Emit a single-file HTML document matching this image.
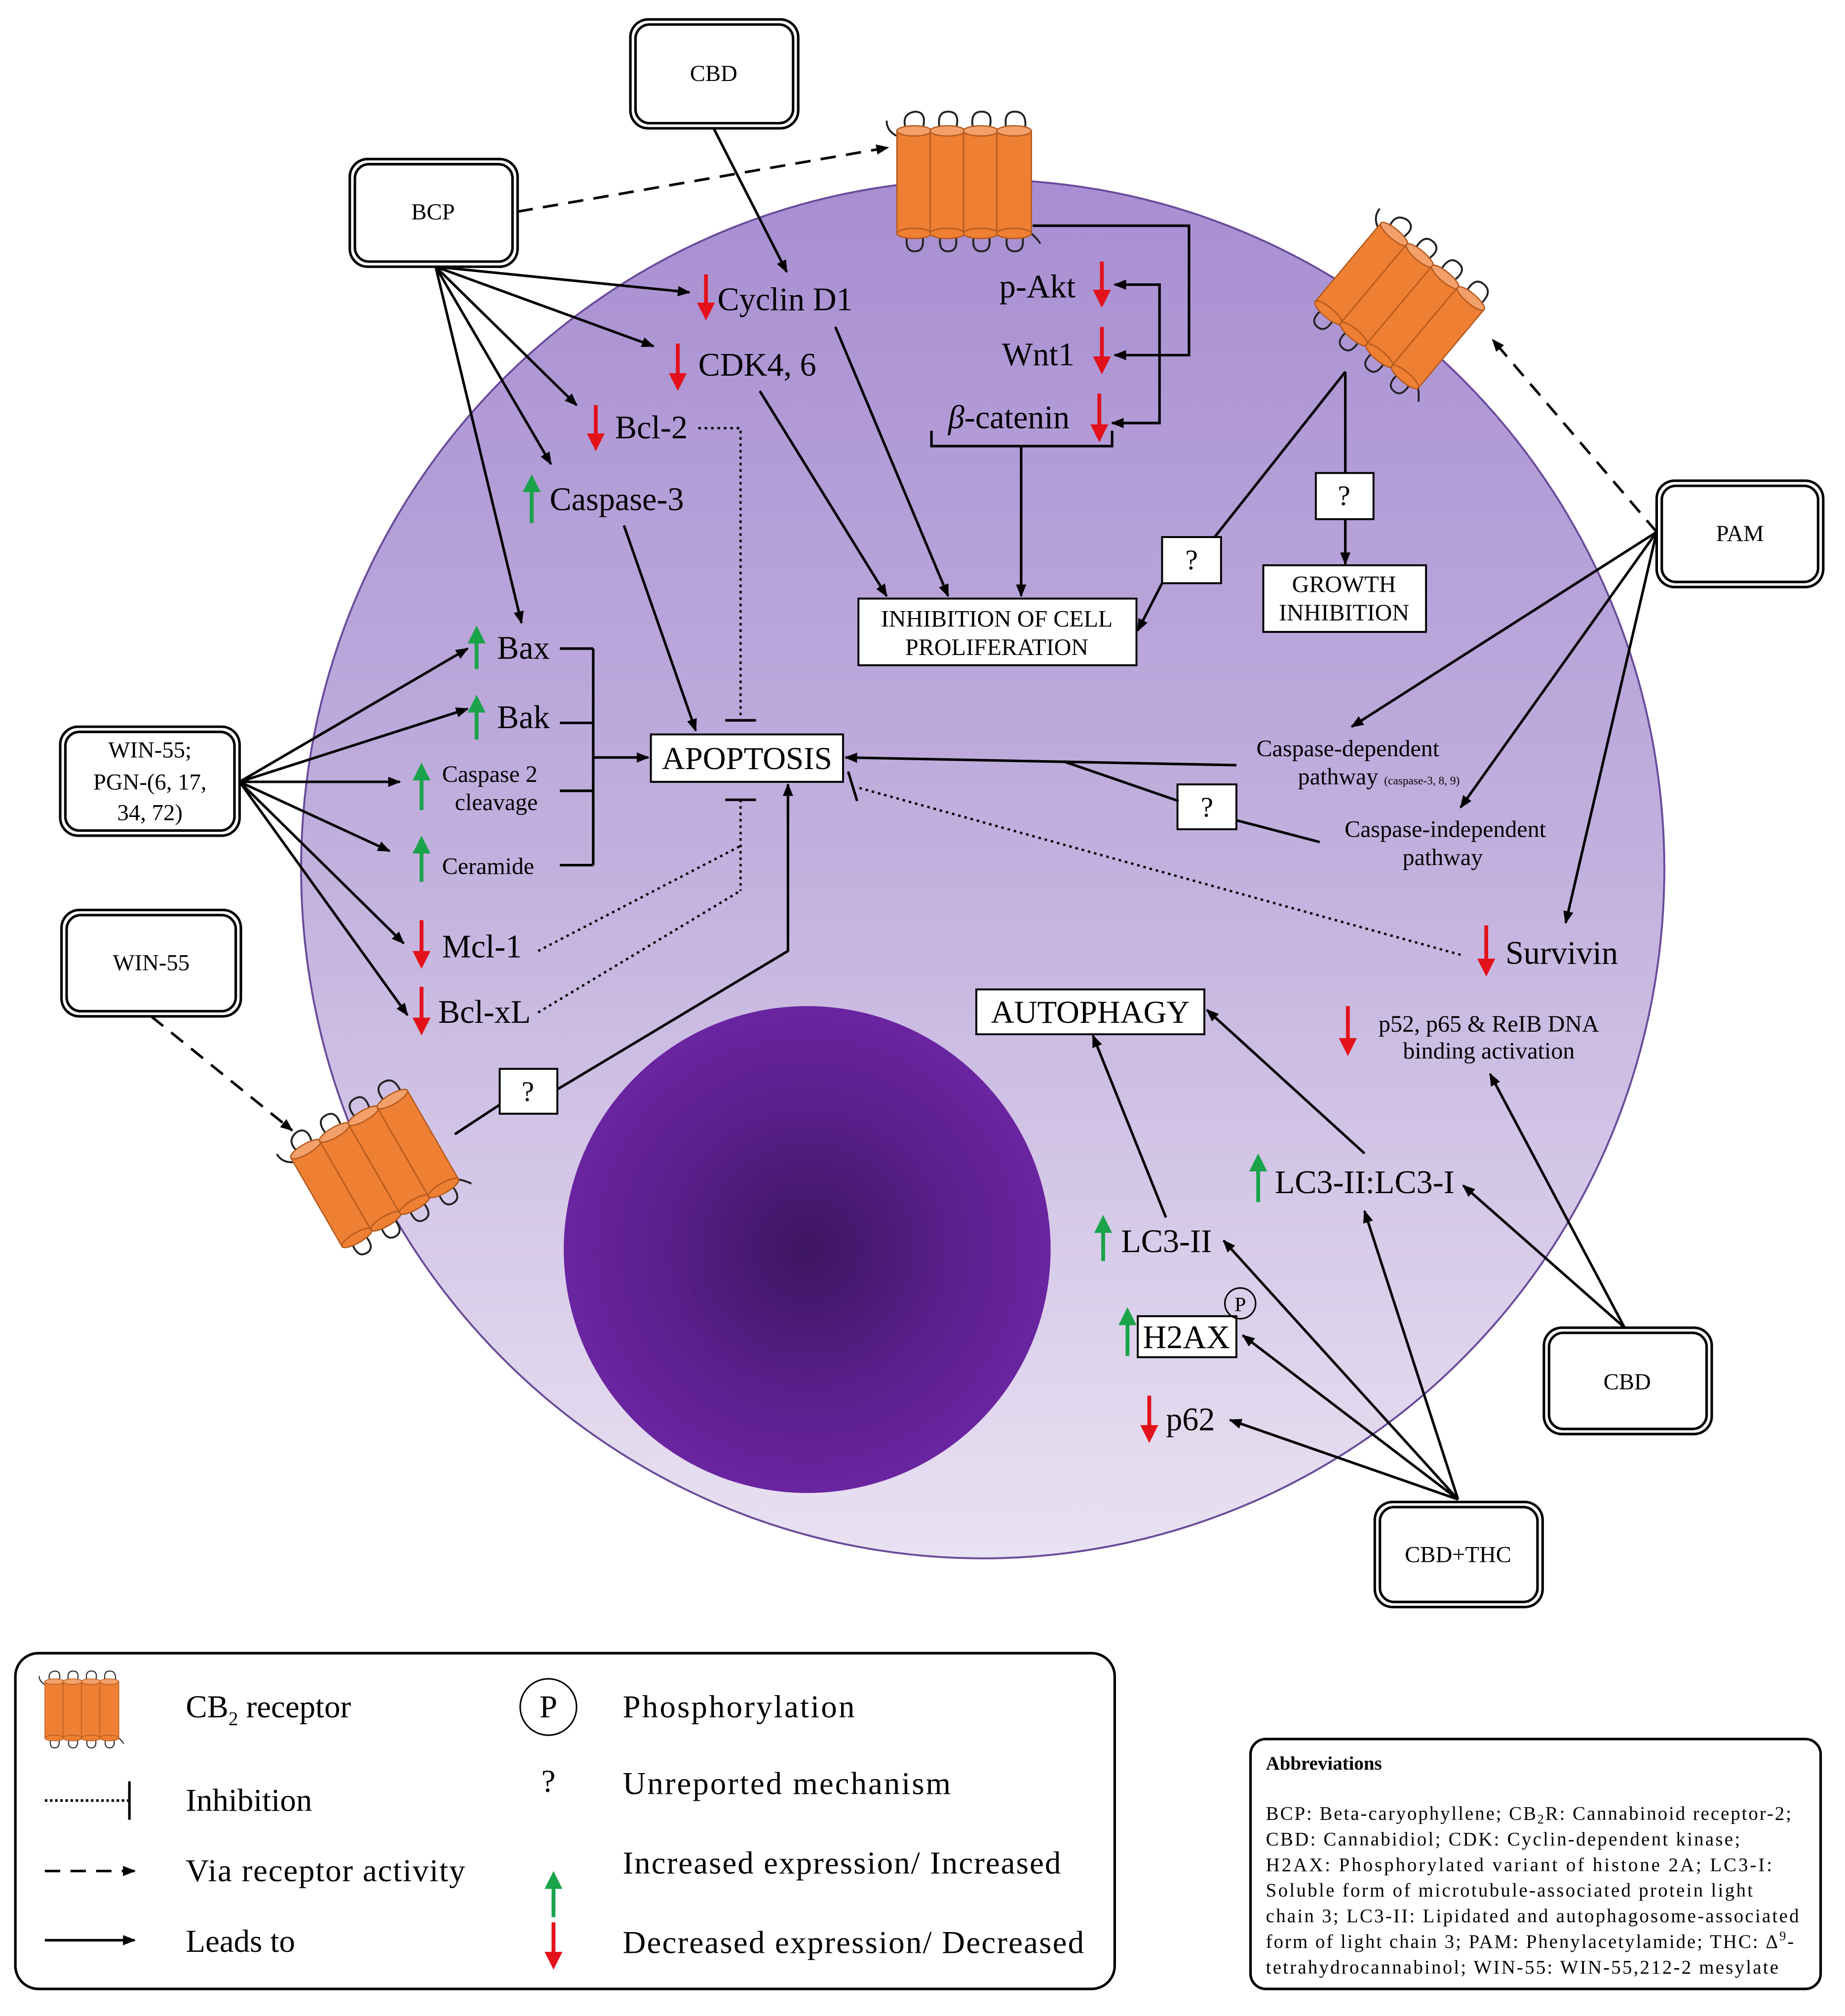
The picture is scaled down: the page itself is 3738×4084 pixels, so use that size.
<!DOCTYPE html>
<html><head><meta charset="utf-8"><style>html,body{margin:0;padding:0;background:#fff}svg{display:block}</style></head>
<body>
<svg xmlns="http://www.w3.org/2000/svg" width="3738" height="4084" viewBox="0 0 1440 1573" font-family="'Liberation Serif', serif">
<defs>
<linearGradient id="cell" x1="0" y1="0" x2="0" y2="1">
<stop offset="0" stop-color="#a88ed2"/><stop offset="0.5" stop-color="#c2b1de"/><stop offset="1" stop-color="#e9e2f2"/></linearGradient>
<radialGradient id="nuc" cx="0.5" cy="0.5" r="0.5">
<stop offset="0" stop-color="#3e1560"/><stop offset="0.6" stop-color="#5a1f8c"/><stop offset="1" stop-color="#6a24a0"/></radialGradient>
<marker id="ah" markerWidth="10" markerHeight="10" refX="9" refY="5" orient="auto" markerUnits="userSpaceOnUse"><path d="M0,1 L10,5 L0,9 z" fill="#000"/></marker>
<marker id="rh" markerWidth="14" markerHeight="14" refX="4" refY="7" orient="auto" markerUnits="userSpaceOnUse"><path d="M0,0 L14,7 L0,14 z" fill="#e3111a"/></marker>
<marker id="gh" markerWidth="14" markerHeight="14" refX="4" refY="7" orient="auto" markerUnits="userSpaceOnUse"><path d="M0,0 L14,7 L0,14 z" fill="#1aa34a"/></marker>
<g id="rec">
<path d="M8,5 q-6,-14 6,-16 q10,0 6,14 M34,5 q-4,-16 6,-16 q10,0 6,14 M60,5 q-4,-16 6,-16 q10,0 6,14 M86,5 q-4,-16 6,-16 q10,0 8,14" fill="none" stroke="#222" stroke-width="1.5"/>
<path d="M0,8 q-8,-4 -8,-12 M100,80 q8,6 12,12" fill="none" stroke="#222" stroke-width="1.5"/>
<path d="M8,86 q-2,12 6,12 q8,0 6,-12 M34,86 q-2,12 6,12 q8,0 6,-12 M60,86 q-2,12 6,12 q8,0 6,-12 M86,86 q-2,12 6,12 q8,0 6,-12" fill="none" stroke="#222" stroke-width="1.5"/>
<g fill="#ee7f33" stroke="#b3591d" stroke-width="1">
<rect x="0" y="4" width="27" height="80"/><ellipse cx="13.5" cy="84" rx="13.5" ry="4"/><ellipse cx="13.5" cy="4" rx="13.5" ry="4" fill="#f3a06a"/>
<rect x="26" y="4" width="27" height="80"/><ellipse cx="39.5" cy="84" rx="13.5" ry="4"/><ellipse cx="39.5" cy="4" rx="13.5" ry="4" fill="#f3a06a"/>
<rect x="52" y="4" width="27" height="80"/><ellipse cx="65.5" cy="84" rx="13.5" ry="4"/><ellipse cx="65.5" cy="4" rx="13.5" ry="4" fill="#f3a06a"/>
<rect x="78" y="4" width="27" height="80"/><ellipse cx="91.5" cy="84" rx="13.5" ry="4"/><ellipse cx="91.5" cy="4" rx="13.5" ry="4" fill="#f3a06a"/>
</g>
</g>
</defs>

<ellipse cx="767" cy="678" rx="532" ry="538" fill="url(#cell)" stroke="#6a4a9a" stroke-width="1.5"/>
<circle cx="630" cy="975" r="190" fill="url(#nuc)"/>

<use href="#rec" transform="translate(700,98)"/>
<use href="#rec" transform="translate(1092,238) rotate(40) translate(-52,-44)"/>
<use href="#rec" transform="translate(292,912) rotate(-30) translate(-52,-44)"/>

<g fill="#fff" stroke="#000" stroke-width="2">
<rect x="492" y="15" width="131" height="85" rx="14"/><rect x="496" y="19" width="123" height="77" rx="11"/>
<rect x="273" y="124" width="131" height="84" rx="14"/><rect x="277" y="128" width="123" height="76" rx="11"/>
<rect x="1293" y="375" width="130" height="83" rx="14"/><rect x="1297" y="379" width="122" height="75" rx="11"/>
<rect x="47" y="567" width="140" height="85" rx="14"/><rect x="51" y="571" width="132" height="77" rx="11"/>
<rect x="48" y="710" width="140" height="83" rx="14"/><rect x="52" y="714" width="132" height="75" rx="11"/>
<rect x="1205" y="1036" width="131" height="83" rx="14"/><rect x="1209" y="1040" width="123" height="75" rx="11"/>
<rect x="1073" y="1172" width="131" height="82" rx="14"/><rect x="1077" y="1176" width="123" height="74" rx="11"/>
</g>
<g font-size="18" text-anchor="middle">
<text x="557" y="63">CBD</text><text x="338" y="171">BCP</text><text x="1358" y="422">PAM</text>
<text x="117" y="591">WIN-55;</text><text x="117" y="616">PGN-(6, 17,</text><text x="117" y="640">34, 72)</text>
<text x="118" y="757">WIN-55</text><text x="1270" y="1084">CBD</text><text x="1138" y="1219">CBD+THC</text>
</g>

<g fill="#fff" stroke="#000" stroke-width="1.5">
<rect x="670" y="467" width="217" height="52"/><rect x="986" y="441" width="127" height="52"/>
<rect x="508" y="573" width="150" height="37"/><rect x="762" y="772" width="178" height="35"/>
<rect x="907" y="419" width="46" height="36"/><rect x="1027" y="369" width="45" height="36"/>
<rect x="919" y="612" width="46" height="35"/><rect x="390" y="834" width="45" height="35"/>
<rect x="888" y="1027" width="77" height="32"/>
</g>
<g font-size="18.5" text-anchor="middle">
<text x="778" y="489">INHIBITION OF CELL</text><text x="778" y="511">PROLIFERATION</text>
<text x="1049" y="462">GROWTH</text><text x="1049" y="484">INHIBITION</text>
<text x="930" y="444" font-size="22">?</text><text x="1049" y="394" font-size="22">?</text>
<text x="942" y="637" font-size="22">?</text><text x="412" y="859" font-size="22">?</text>
</g>
<text x="583" y="600" font-size="25" text-anchor="middle">APOPTOSIS</text>
<text x="851" y="798" font-size="25" text-anchor="middle">AUTOPHAGY</text>

<g font-size="25.5">
<text x="560" y="242">Cyclin D1</text><text x="545" y="293">CDK4, 6</text><text x="480" y="342">Bcl-2</text>
<text x="429" y="398">Caspase-3</text><text x="780" y="232">p-Akt</text><text x="782" y="285">Wnt1</text>
<text x="740" y="334"><tspan font-style="italic">β</tspan>-catenin</text>
<text x="388" y="514">Bax</text><text x="388" y="568">Bak</text>
<text x="345" y="747">Mcl-1</text><text x="342" y="798">Bcl-xL</text>
<text x="1175" y="752">Survivin</text>
<text x="995" y="931">LC3-II:LC3-I</text><text x="875" y="977">LC3-II</text>
<text x="892" y="1052">H2AX</text><text x="910" y="1116">p62</text>
</g>
<g font-size="18.5">
<text x="345" y="610">Caspase 2</text><text x="355" y="632">cleavage</text><text x="345" y="682">Ceramide</text>
<text x="1052" y="590" text-anchor="middle">Caspase-dependent</text>
<text x="1013" y="612">pathway <tspan font-size="9">(caspase-3, 8, 9)</tspan></text>
<text x="1128" y="653" text-anchor="middle">Caspase-independent</text><text x="1126" y="675" text-anchor="middle">pathway</text>
<text x="1162" y="805" text-anchor="middle">p52, p65 &amp; ReIB DNA</text><text x="1162" y="826" text-anchor="middle">binding activation</text>
</g>
<circle cx="968" cy="1017" r="12" fill="none" stroke="#000" stroke-width="1.2"/><text x="968" y="1023" font-size="16" text-anchor="middle">P</text>

<g stroke-width="3">
<g stroke="#e3111a" marker-end="url(#rh)">
<line x1="551" y1="214" x2="551" y2="240"/><line x1="529" y1="268" x2="529" y2="295"/><line x1="465" y1="316" x2="465" y2="342"/>
<line x1="860" y1="204" x2="860" y2="230"/><line x1="860" y1="255" x2="860" y2="282"/><line x1="858" y1="307" x2="858" y2="335"/>
<line x1="329" y1="718" x2="329" y2="746"/><line x1="329" y1="770" x2="329" y2="798"/>
<line x1="1160" y1="722" x2="1160" y2="752"/><line x1="1052" y1="785" x2="1052" y2="814"/>
<line x1="897" y1="1089" x2="897" y2="1116"/>
</g>
<g stroke="#1aa34a" marker-end="url(#gh)">
<line x1="415" y1="408" x2="415" y2="380"/><line x1="372" y1="522" x2="372" y2="498"/><line x1="372" y1="577" x2="372" y2="552"/>
<line x1="329" y1="632" x2="329" y2="605"/><line x1="329" y1="688" x2="329" y2="662"/>
<line x1="982" y1="938" x2="982" y2="910"/><line x1="861" y1="984" x2="861" y2="958"/><line x1="880" y1="1058" x2="880" y2="1030"/>
</g>
</g>

<g stroke="#000" stroke-width="2" fill="none">
<g marker-end="url(#ah)">
<line x1="557" y1="100" x2="614" y2="212"/>
<line x1="340" y1="208" x2="538" y2="228"/><line x1="340" y1="208" x2="510" y2="270"/><line x1="340" y1="208" x2="450" y2="316"/>
<line x1="340" y1="208" x2="430" y2="362"/><line x1="340" y1="208" x2="407" y2="486"/>
<line x1="652" y1="255" x2="740" y2="465"/><line x1="593" y1="305" x2="692" y2="465"/><line x1="487" y1="410" x2="543" y2="570"/>
<line x1="797" y1="348" x2="797" y2="465"/>
<polyline points="806,176 928,176 928,277 870,277"/>
<polyline points="905,277 905,222 870,222"/><polyline points="905,277 905,330 868,330"/>
<line x1="463" y1="591" x2="506" y2="591"/>
<line x1="965" y1="597" x2="660" y2="591"/>
<line x1="907" y1="455" x2="888" y2="492"/>
<line x1="1050" y1="405" x2="1050" y2="440"/>
<line x1="1293" y1="415" x2="1055" y2="567"/><line x1="1293" y1="415" x2="1140" y2="630"/><line x1="1293" y1="415" x2="1222" y2="720"/>
<line x1="187" y1="610" x2="365" y2="506"/><line x1="187" y1="610" x2="365" y2="553"/><line x1="187" y1="610" x2="312" y2="610"/>
<line x1="187" y1="610" x2="304" y2="664"/><line x1="187" y1="610" x2="315" y2="736"/><line x1="187" y1="610" x2="318" y2="792"/>
<polyline points="435,850 615,742 615,612"/>
<line x1="1268" y1="1036" x2="1142" y2="925"/><line x1="1268" y1="1036" x2="1163" y2="838"/>
<line x1="1138" y1="1170" x2="955" y2="968"/><line x1="1138" y1="1170" x2="970" y2="1042"/><line x1="1138" y1="1170" x2="960" y2="1108"/><line x1="1138" y1="1170" x2="1065" y2="945"/>
<line x1="910" y1="950" x2="853" y2="808"/><line x1="1065" y1="900" x2="942" y2="788"/>
</g>
<polyline points="727,336 727,348 868,348 868,336"/>
<line x1="1050" y1="290" x2="948" y2="419"/><line x1="1050" y1="290" x2="1050" y2="369"/>
<line x1="830" y1="594" x2="920" y2="625"/><line x1="965" y1="640" x2="1030" y2="657"/>
<line x1="355" y1="885" x2="390" y2="862"/>
<line x1="437" y1="506" x2="463" y2="506"/><line x1="437" y1="564" x2="463" y2="564"/><line x1="437" y1="617" x2="463" y2="617"/><line x1="437" y1="675" x2="463" y2="675"/><line x1="463" y1="506" x2="463" y2="675"/>
<line x1="566" y1="562" x2="590" y2="562"/><line x1="566" y1="624" x2="590" y2="624"/><line x1="662" y1="602" x2="669" y2="625"/>
<g stroke-dasharray="2,3" stroke-width="1.8">
<polyline points="545,334 578,334 578,562"/><line x1="578" y1="624" x2="578" y2="695"/>
<line x1="420" y1="742" x2="578" y2="660"/><line x1="420" y1="790" x2="578" y2="695"/>
<line x1="1140" y1="745" x2="668" y2="614"/>
</g>
<g stroke-dasharray="12,8" marker-end="url(#ah)">
<line x1="404" y1="165" x2="693" y2="115"/><line x1="1293" y1="415" x2="1165" y2="265"/><line x1="118" y1="793" x2="228" y2="882"/>
</g>
</g>

<rect x="12" y="1290" width="858" height="262" rx="18" fill="#fff" stroke="#000" stroke-width="2"/>
<use href="#rec" transform="translate(35,1310) scale(0.55)"/>
<g stroke="#000" stroke-width="2" fill="none">
<line x1="35" y1="1405" x2="100" y2="1405" stroke-dasharray="2,2"/><line x1="101" y1="1390" x2="101" y2="1420"/>
<line x1="35" y1="1460" x2="105" y2="1460" stroke-dasharray="12,8" marker-end="url(#ah)"/>
<line x1="35" y1="1514" x2="105" y2="1514" marker-end="url(#ah)"/>
<circle cx="428" cy="1332" r="22" stroke-width="1.2"/>
</g>
<line x1="432" y1="1496" x2="432" y2="1470" stroke="#1aa34a" stroke-width="3" marker-end="url(#gh)"/>
<line x1="432" y1="1500" x2="432" y2="1527" stroke="#e3111a" stroke-width="3" marker-end="url(#rh)"/>
<g font-size="25">
<text x="145" y="1340">CB<tspan font-size="15" dy="6">2</tspan><tspan dy="-6"> receptor</tspan></text>
<text x="145" y="1413">Inhibition</text><text x="145" y="1468" textLength="218">Via receptor activity</text><text x="145" y="1523">Leads to</text>
<text x="428" y="1340" text-anchor="middle">P</text><text x="428" y="1398" text-anchor="middle">?</text>
<text x="486" y="1340" textLength="181">Phosphorylation</text><text x="486" y="1400" textLength="256">Unreported mechanism</text>
<text x="486" y="1462" textLength="342">Increased expression/ Increased</text><text x="486" y="1524" textLength="360">Decreased expression/ Decreased</text>
</g>

<rect x="976" y="1357" width="445" height="195" rx="12" fill="#fff" stroke="#000" stroke-width="2"/>
<g font-size="15">
<text x="988" y="1381" font-weight="bold">Abbreviations</text>
<text x="988" y="1420" textLength="410">BCP: Beta-caryophyllene; CB<tspan font-size="10" dy="3">2</tspan><tspan dy="-3">R: Cannabinoid receptor-2;</tspan></text>
<text x="988" y="1440" textLength="370">CBD: Cannabidiol; CDK: Cyclin-dependent kinase;</text>
<text x="988" y="1460" textLength="395">H2AX: Phosphorylated variant of histone 2A; LC3-I:</text>
<text x="988" y="1480" textLength="380">Soluble form of microtubule-associated protein light</text>
<text x="988" y="1500" textLength="416">chain 3; LC3-II: Lipidated and autophagosome-associated</text>
<text x="988" y="1520" textLength="412">form of light chain 3; PAM: Phenylacetylamide; THC: Δ<tspan font-size="10" dy="-6">9</tspan><tspan dy="6">-</tspan></text>
<text x="988" y="1540" textLength="400">tetrahydrocannabinol; WIN-55: WIN-55,212-2 mesylate</text>
</g>
</svg>
</body></html>
